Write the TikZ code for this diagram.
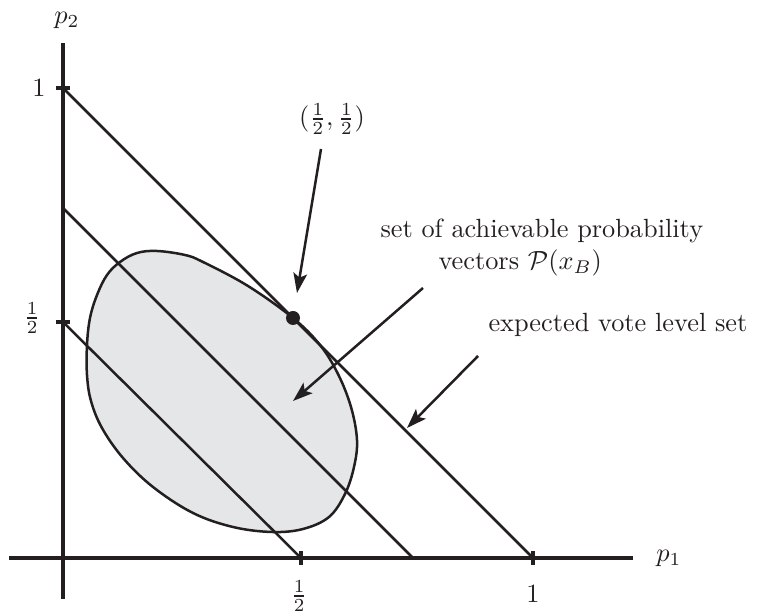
\documentclass[tikz,border=0pt]{standalone}
\usetikzlibrary{arrows.meta}
\definecolor{blobfill}{RGB}{229,230,232}
\definecolor{ink}{RGB}{35,31,32}
\begin{document}
\begin{tikzpicture}[x=0.38pt,y=-0.38pt,
  axis/.style={draw=ink,line width=1.2pt},
  level/.style={draw=ink,line width=0.95pt},
  pointer/.style={draw=ink,line width=0.95pt,-{Stealth[length=7.5pt,width=5.2pt,inset=1.6pt]}},
  lbl/.style={inner sep=0pt,text=ink}]
\useasboundingbox (0,0) rectangle (758,612);
% set of achievable probability vectors
\draw[fill=blobfill,draw=ink,line width=0.95pt] plot[smooth cycle,tension=0.6] coordinates {
 (157,251) (137,253) (120,262) (107,275) (97,295) (90,318) (87,345) (87,375)
 (91,401) (102,428) (123,458) (153,487) (193,513) (233,527) (272,532)
 (303,529) (329,517) (345,494) (354,467) (357,440) (351,407) (338,374)
 (320,345) (293,318) (248,286) (203,262) (185,255)};
% coordinates
\coordinate (yb) at (63,599);
\coordinate (yt) at (63,43);
\coordinate (xl) at (9,558);
\coordinate (xr) at (633,558);
\coordinate (y1) at (63,88);
\coordinate (yh) at (63,322);
\coordinate (ym) at (63,208);
\coordinate (x1) at (533,558);
\coordinate (xh) at (301,558);
\coordinate (xm) at (413,558);
% axes
\draw[axis] (xl) -- (xr);
\draw[axis] (yb) -- (yt);
\draw[axis] ([xshift=-7*0.38pt]y1) -- ([xshift=7*0.38pt]y1);
\draw[axis] ([xshift=-7*0.38pt]yh) -- ([xshift=7*0.38pt]yh);
\draw[axis] ([yshift=-7*0.38pt]x1) -- ([yshift=7*0.38pt]x1);
\draw[axis] ([yshift=-7*0.38pt]xh) -- ([yshift=7*0.38pt]xh);
% level sets
\draw[level] (y1) -- (x1);
\draw[level] (ym) -- (xm);
\draw[level] (yh) -- (xh);
% dot
\node[circle,fill=ink,inner sep=0pt,minimum size=14*0.38pt] (dot) at (293,318) {};
% labels
\node[lbl] (p2) at (67,20) {$p_2$};
\node[lbl] (p1) at (669,558) {$p_1$};
\node[lbl] (l1y) at (39,88) {$1$};
\node[lbl] (lhy) at (32,318) {$\frac{1}{2}$};
\node[lbl] (l1x) at (533,594) {$1$};
\node[lbl] (lhx) at (299,596) {$\frac{1}{2}$};
\node[lbl] (half) at (332,119) {$(\frac{1}{2},\frac{1}{2})$};
\node[lbl,anchor=base west] (ach1) at (380,238) {set of achievable probability};
\node[lbl,anchor=base west] (ach2) at (438,270) {vectors $\mathcal{P}(x_B)$};
\node[lbl,anchor=base west] (evl) at (488,332) {expected vote level set};
% pointers
\coordinate (a1s) at (321,149);
\coordinate (a1e) at (297,293);
\coordinate (a2s) at (423,288);
\coordinate (a2e) at (293,401);
\coordinate (a3s) at (478,356);
\coordinate (a3e) at (407,428);
\draw[pointer] (a1s) -- (a1e);
\draw[pointer] (a2s) -- (a2e);
\draw[pointer] (a3s) -- (a3e);
\end{tikzpicture}
\end{document}
